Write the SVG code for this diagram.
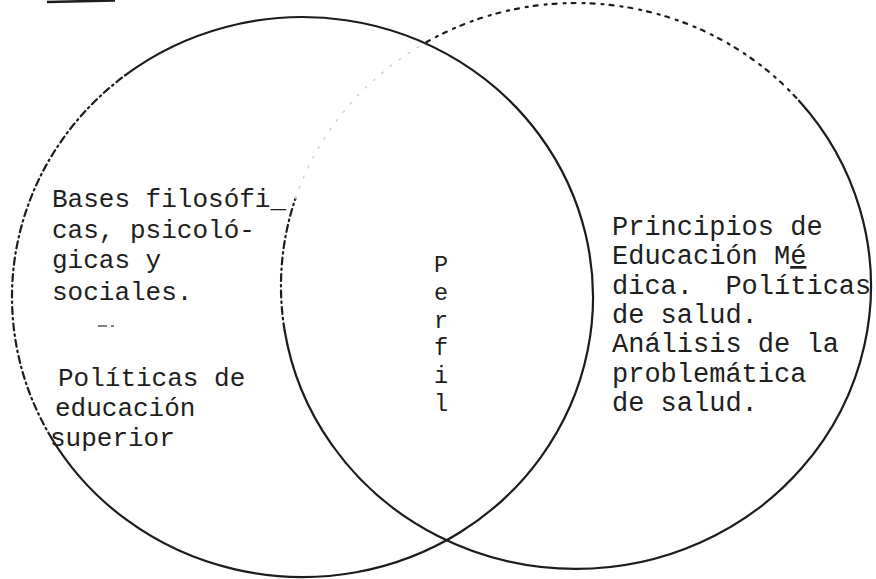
<svg xmlns="http://www.w3.org/2000/svg" width="876" height="579" viewBox="0 0 876 579">
<style>
.ln{fill:none;stroke:#1c1c1c;stroke-width:2.2;stroke-linecap:round}
.dd{stroke-dasharray:7 4 1.5 4}
.dt{stroke-dasharray:4 7 2 6}
.fa{stroke:#c8c8c8;stroke-width:1.2;stroke-dasharray:2 9}
.tL{font-family:"Liberation Mono","DejaVu Sans Mono",monospace;font-size:26px;fill:#1e1e1e}
.tR{font-family:"Liberation Mono","DejaVu Sans Mono",monospace;font-size:27px;fill:#1e1e1e}
.tP{font-family:"Liberation Mono","DejaVu Sans Mono",monospace;font-size:23.5px;fill:#1e1e1e}
</style>
<rect width="876" height="579" fill="#ffffff"/>
<line x1="47" y1="2" x2="115" y2="0.5" stroke="#1c1c1c" stroke-width="2.5"/>
<g id="set-left">
<path class="ln" d="M 125.3 75.2 A 290.5 280 0 1 1 51.9 438.7"/>
<path class="ln dd" d="M 51.9 438.7 A 290.5 280 0 0 1 125.3 75.2"/>
<text class="tL" x="52" y="207">Bases filosófi_</text>
<text class="tL" x="52" y="238">cas, psicoló-</text>
<text class="tL" x="52" y="268">gicas y</text>
<text class="tL" x="52" y="300">sociales.</text>
<text class="tL" x="58" y="386">Políticas de</text>
<text class="tL" x="55" y="416">educación</text>
<text class="tL" x="50" y="446">superior</text>
<path d="M 98 326 h 9 M 111 326 h 3" stroke="#555" stroke-width="1.5" fill="none"/>
</g>
<g id="set-right">
<path class="ln dt" d="M 426.3 42.2 A 295 283 0 0 1 799 100.7"/>
<path class="ln" d="M 799 100.7 A 295 283 0 1 1 284.6 330.3"/>
<path class="ln dd" d="M 284.6 330.3 A 295 283 0 0 1 295.4 198.6"/>
<path class="ln fa" d="M 295.4 198.6 A 295 283 0 0 1 426.3 42.2"/>
<text class="tR" x="612" y="235">Principios de</text>
<text class="tR" x="612" y="264">Educación M<tspan text-decoration="underline">é</tspan></text>
<text class="tR" x="612" y="294">dica.&#160; Políticas</text>
<text class="tR" x="612" y="323">de salud.</text>
<text class="tR" x="612" y="352">Análisis de la</text>
<text class="tR" x="612" y="382">problemática</text>
<text class="tR" x="612" y="411">de salud.</text>
</g>
<g id="intersection">
<text class="tP" x="441" y="272" text-anchor="middle">P</text>
<text class="tP" x="441" y="300" text-anchor="middle">e</text>
<text class="tP" x="441" y="328" text-anchor="middle">r</text>
<text class="tP" x="441" y="355" text-anchor="middle">f</text>
<text class="tP" x="441" y="383" text-anchor="middle">i</text>
<text class="tP" x="441" y="411" text-anchor="middle">l</text>
</g>
</svg>
